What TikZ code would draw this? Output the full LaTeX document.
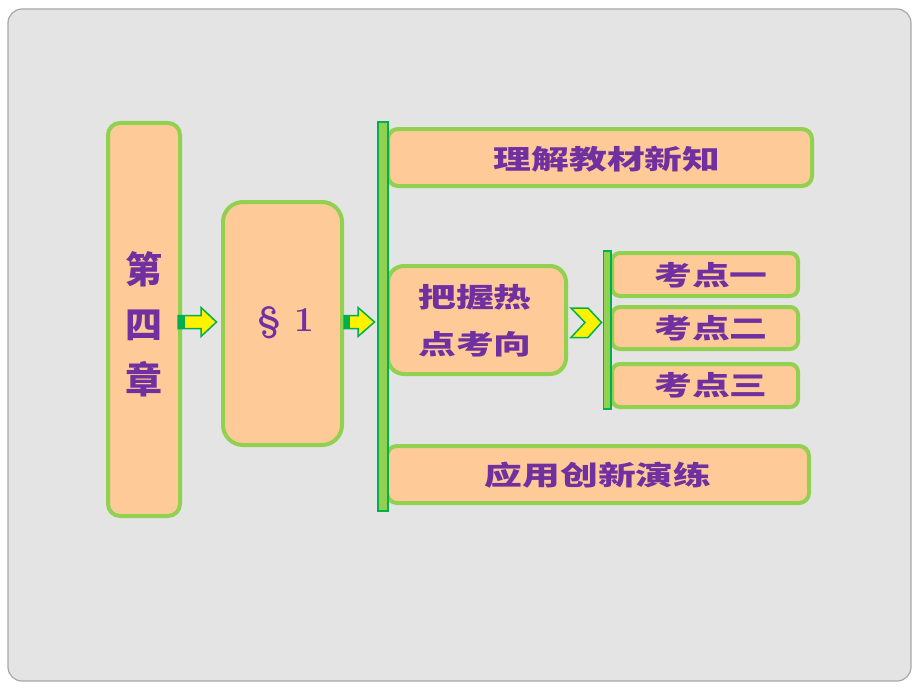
\documentclass[tikz,border=0pt]{standalone}
\usepackage{fontspec}
\newfontfamily\cjk{Noto Sans CJK SC}
\definecolor{peach}{HTML}{FECB98}
\definecolor{lgreen}{HTML}{92D050}
\definecolor{dgreen}{HTML}{00B050}
\definecolor{purp}{HTML}{7030A0}
\definecolor{bggray}{HTML}{E4E4E4}
\definecolor{bgline}{HTML}{A8A8A8}
\tikzset{
  box/.style={draw=lgreen, line width=4pt, fill=peach, inner sep=0pt, outer sep=0pt},
  bar/.style={draw=dgreen, line width=1.5pt, fill=lgreen},
  blockarrow/.style={draw=dgreen, line width=1.5pt, fill=yellow, line join=miter},
  lbl/.style={text=purp, font=\cjk\bfseries, inner sep=0pt},
}
\newcommand{\wide}[1]{\scalebox{1.4}[1]{#1}}
\begin{document}
\begin{tikzpicture}[x=1pt,y=-1pt]
\useasboundingbox (0,0) rectangle (920,690);
\fill[white] (0,0) rectangle (920,690);
\draw[bgline, fill=bggray, line width=1.2pt, rounded corners=14pt] (8,9) rectangle (911,681);

% boxes
\node[box, rounded corners=12pt, minimum width=72pt, minimum height=393pt] (b1) at (144,319.5) {};
\node[box, rounded corners=20pt, minimum width=119pt, minimum height=243pt] (b2) at (282.5,323.5) {};
\node[box, rounded corners=10pt, minimum width=424pt, minimum height=57pt] (b3) at (600,157.5) {};
\node[box, rounded corners=16pt, minimum width=178pt, minimum height=108pt] (b4) at (477,320) {};
\node[box, rounded corners=8pt, minimum width=186pt, minimum height=43pt] (b5) at (705,274.5) {};
\node[box, rounded corners=8pt, minimum width=186pt, minimum height=42pt] (b6) at (705,328) {};
\node[box, rounded corners=8pt, minimum width=186pt, minimum height=43pt] (b7) at (705,385.5) {};
\node[box, rounded corners=10pt, minimum width=422pt, minimum height=57pt] (b8) at (598,474.5) {};

% bars
\draw[bar] (378,122) rectangle (388,511);
\draw[bar] (603.5,251) rectangle (611,409);

% labels
\node[lbl, font=\cjk\bfseries\fontsize{37}{55}\selectfont, align=center] (t1) at (144,324) {第\\四\\章};
\node[text=purp, inner sep=0pt, font=\bfseries\fontsize{35}{40}\selectfont] (t2) at (286,323) {\S\ 1};
\node[lbl, font=\cjk\bfseries\fontsize{27}{30}\selectfont] (t3) at (607,159) {\wide{理解教材新知}};
\node[lbl, font=\cjk\bfseries\fontsize{27}{47}\selectfont, align=center] (t4) at (475,321) {\wide{把握热}\\\wide{点考向}};
\node[lbl, font=\cjk\bfseries\fontsize{27}{30}\selectfont] (t5) at (711,275) {\wide{考点一}};
\node[lbl, font=\cjk\bfseries\fontsize{27}{30}\selectfont] (t6) at (711,328) {\wide{考点二}};
\node[lbl, font=\cjk\bfseries\fontsize{27}{30}\selectfont] (t7) at (711,385) {\wide{考点三}};
\node[lbl, font=\cjk\bfseries\fontsize{27}{30}\selectfont] (t8) at (598,475) {\wide{应用创新演练}};

% block arrows
\draw[blockarrow] (178,315.5) -- (201,315.5) -- (201,307.5) -- (216.5,322) -- (201,336.5) -- (201,328.5) -- (178,328.5) -- cycle;
\fill[dgreen] (178,315.5) rectangle (185,328.5);
\draw[blockarrow] (344,315.5) -- (358,315.5) -- (358,307.5) -- (374.5,322) -- (358,336.5) -- (358,328.5) -- (344,328.5) -- cycle;
\fill[dgreen] (344,315.5) rectangle (350,328.5);
\draw[blockarrow] (571,308) -- (588,308) -- (601.5,322.5) -- (588,337.5) -- (571,337.5) -- (585,322.5) -- cycle;
\end{tikzpicture}
\end{document}
